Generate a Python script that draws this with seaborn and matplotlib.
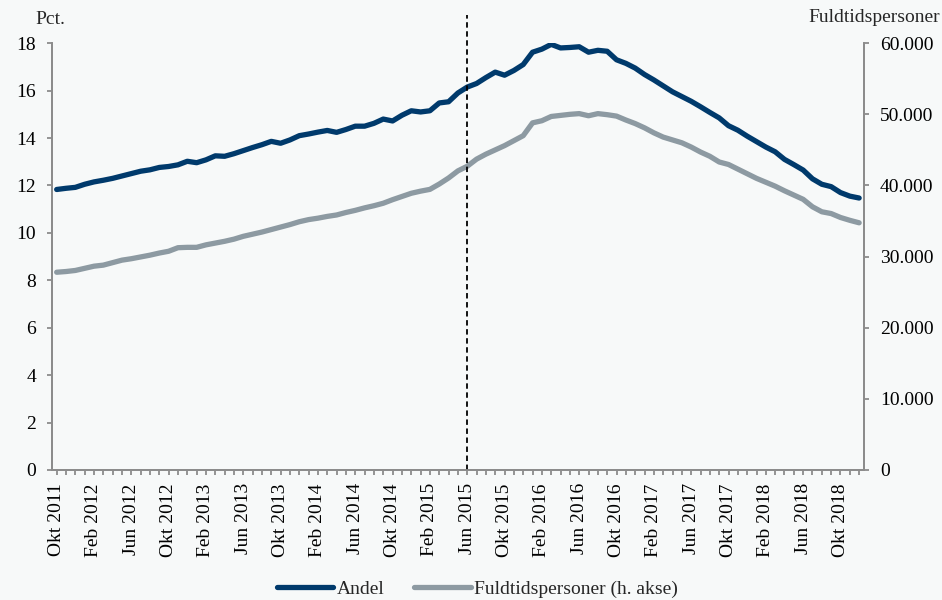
import matplotlib
matplotlib.use("Agg")
import matplotlib.pyplot as plt
import matplotlib.ticker as mticker
from matplotlib.lines import Line2D
import seaborn as sns
import numpy as np
import pandas as pd

# Monthly data, Okt 2011 - Dec 2018
months = pd.date_range("2011-10-01", "2018-12-01", freq="MS")
dk_month = ["Jan", "Feb", "Mar", "Apr", "Maj", "Jun", "Jul", "Aug", "Sep", "Okt", "Nov", "Dec"]
month_labels = [f"{dk_month[d.month - 1]} {d.year}" for d in months]

andel = [11.83, 11.88, 11.92, 12.05, 12.15, 12.22, 12.30, 12.40, 12.50, 12.60,
         12.66, 12.76, 12.80, 12.87, 13.02, 12.96, 13.08, 13.25, 13.23, 13.34,
         13.47, 13.60, 13.72, 13.86, 13.78, 13.92, 14.10, 14.17, 14.25, 14.32,
         14.24, 14.36, 14.50, 14.50, 14.62, 14.80, 14.72, 14.96, 15.15, 15.10,
         15.15, 15.48, 15.53, 15.90, 16.15, 16.30, 16.55, 16.78, 16.65, 16.85,
         17.10, 17.62, 17.75, 17.95, 17.80, 17.82, 17.85, 17.62, 17.70, 17.66,
         17.30, 17.15, 16.95, 16.68, 16.45, 16.20, 15.95, 15.75, 15.55, 15.32,
         15.08, 14.85, 14.52, 14.33, 14.08, 13.85, 13.62, 13.42, 13.10, 12.88,
         12.65, 12.28, 12.05, 11.95, 11.70, 11.55, 11.47]

fuldtid = [27800, 27900, 28050, 28350, 28650, 28800, 29150, 29500, 29700, 29950,
           30200, 30500, 30750, 31250, 31300, 31300, 31650, 31900, 32150, 32450,
           32850, 33150, 33450, 33800, 34150, 34500, 34900, 35200, 35400, 35650,
           35850, 36200, 36500, 36850, 37150, 37500, 38000, 38450, 38900, 39200,
           39450, 40200, 41050, 42050, 42700, 43700, 44400, 45000, 45600, 46300,
           47000, 48800, 49100, 49700, 49850, 50000, 50100, 49800, 50100, 49950,
           49750, 49200, 48700, 48100, 47400, 46800, 46400, 46000, 45400, 44700,
           44100, 43300, 42950, 42300, 41650, 41000, 40450, 39900, 39250, 38650,
           38050, 37000, 36300, 36050, 35500, 35100, 34750]

marker_month = "Jun 2015"

df = pd.DataFrame({"pos": np.arange(len(months)), "Andel": andel,
                   "Fuldtid": fuldtid, "label": month_labels})

dark = "#003a6c"
grey = "#8d9aa2"
bg = "#f7f9f9"
spine_c = "#8c8c8c"
lw = 3.8

sns.set_theme(style="white")
plt.rcParams["font.family"] = ["Liberation Serif", "DejaVu Serif"]
plt.rcParams["font.size"] = 14

fig, ax = plt.subplots(figsize=(9.42, 6), dpi=100)
fig.patch.set_facecolor(bg)
ax.set_facecolor(bg)
fig.subplots_adjust(left=0.0552, right=0.917, bottom=0.2167, top=0.928)

ax2 = ax.twinx()
sns.lineplot(data=df, x="pos", y="Fuldtid", ax=ax2, color=grey, lw=lw,
             solid_capstyle="round")
sns.lineplot(data=df, x="pos", y="Andel", ax=ax, color=dark, lw=lw,
             solid_capstyle="round")
ax.set_zorder(ax2.get_zorder() + 1)
ax.patch.set_visible(False)
ax2.set_facecolor(bg)

ax.set_xlim(-0.5, len(months) - 0.5)
ax.set_ylim(0, 18)
ax.set_yticks(range(0, 19, 2))
ax2.set_ylim(0, 60000)
ax2.set_yticks(range(0, 60001, 10000))
ax2.yaxis.set_major_formatter(mticker.FuncFormatter(lambda v, p: f"{int(v):,}".replace(",", ".")))

ax.set_xticks(df["pos"])
ax.set_xticklabels([lab if i % 4 == 0 else "" for i, lab in enumerate(month_labels)],
                   rotation=90)

ax.set_xlabel("")
ax.set_ylabel("")
ax2.set_ylabel("")

for a in (ax, ax2):
    for s in a.spines.values():
        s.set_color(spine_c)
        s.set_linewidth(1.3)
    a.spines["top"].set_visible(False)
    a.tick_params(colors=spine_c, labelcolor="black", labelsize=14, width=1.3)

ax.tick_params(axis="x", direction="out", length=3.5, pad=6, bottom=True)
ax.tick_params(axis="y", direction="out", length=3.5, pad=8, left=True)
ax2.tick_params(axis="y", direction="out", length=3.5, pad=8, right=True)

ax.axvline(month_labels.index(marker_month), ymin=0, ymax=1.066, clip_on=False,
           color="black", ls=(0, (3, 2)), lw=1.3)

fig.text(35 / 942, 1 - 20 / 600, "Pct.", ha="left", va="center", fontsize=14)
fig.text(940 / 942, 1 - 18 / 600, "Fuldtidspersoner", ha="right", va="center", fontsize=14)

handles = [Line2D([], [], color=dark, lw=lw, solid_capstyle="round"),
           Line2D([], [], color=grey, lw=lw, solid_capstyle="round")]
fig.legend(handles, ["Andel", "Fuldtidspersoner (h. akse)"], loc="center",
           bbox_to_anchor=(0.507, 0.018), ncol=2, frameon=False, fontsize=14,
           handlelength=2.9, handletextpad=0.2, columnspacing=1.5)

fig.savefig("out.png", dpi=100, facecolor=bg)
